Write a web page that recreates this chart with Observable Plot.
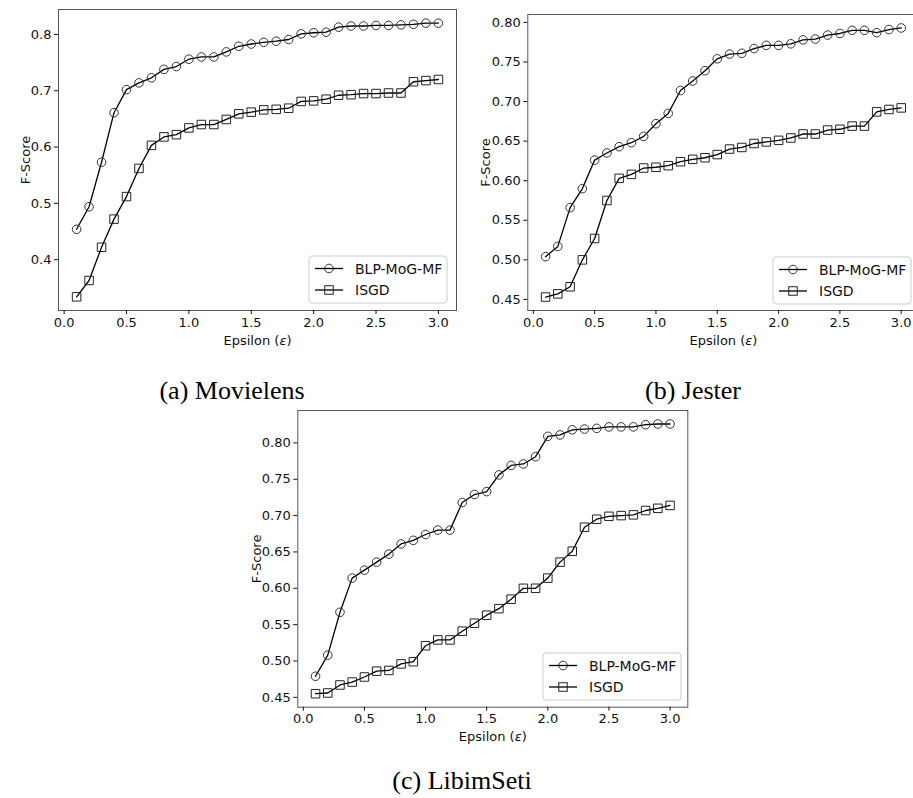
<!DOCTYPE html>
<html><head><meta charset="utf-8">
<script src="https://cdn.jsdelivr.net/npm/d3@7"></script>
<script src="https://cdn.jsdelivr.net/npm/@observablehq/plot@0.6"></script>
<style>
body{margin:0;background:#fff;}
#wrap{position:relative;width:913px;height:798px;overflow:hidden;background:#fff;}
.panel{position:absolute;}
.cap{position:absolute;font-family:"Liberation Serif","Times New Roman",serif;font-size:26px;line-height:26px;white-space:nowrap;transform:translateX(-50%);color:#000;}
.legend{position:absolute;}
</style></head><body><div id="wrap"></div>
<script>
const epsilon = [0.1,0.2,0.3,0.4,0.5,0.6,0.7,0.8,0.9,1.0,1.1,1.2,1.3,1.4,1.5,1.6,1.7,1.8,1.9,2.0,2.1,2.2,2.3,2.4,2.5,2.6,2.7,2.8,2.9,3.0];
const seriesNames = ["BLP-MoG-MF", "ISGD"];
const xTicks = [0.0,0.5,1.0,1.5,2.0,2.5,3.0];

const movielensBLP  = [0.454,0.494,0.573,0.661,0.702,0.714,0.723,0.738,0.743,0.756,0.760,0.760,0.769,0.779,0.783,0.786,0.788,0.791,0.801,0.803,0.804,0.813,0.815,0.815,0.816,0.816,0.817,0.818,0.820,0.820];
const movielensISGD = [0.334,0.363,0.422,0.472,0.512,0.562,0.603,0.618,0.622,0.634,0.640,0.640,0.649,0.659,0.662,0.666,0.667,0.669,0.681,0.682,0.685,0.692,0.693,0.695,0.695,0.696,0.696,0.716,0.718,0.720];
const movielensYTicks = [0.4,0.5,0.6,0.7,0.8];

const jesterBLP  = [0.504,0.517,0.566,0.590,0.626,0.635,0.643,0.648,0.656,0.672,0.685,0.714,0.726,0.739,0.754,0.760,0.761,0.767,0.771,0.771,0.773,0.778,0.779,0.784,0.786,0.790,0.790,0.787,0.791,0.793];
const jesterISGD = [0.453,0.457,0.466,0.500,0.527,0.575,0.603,0.608,0.616,0.617,0.619,0.624,0.627,0.629,0.633,0.640,0.642,0.647,0.649,0.651,0.654,0.659,0.659,0.664,0.665,0.669,0.669,0.687,0.690,0.692];
const jesterYTicks = [0.45,0.50,0.55,0.60,0.65,0.70,0.75,0.80];

const libimBLP  = [0.479,0.508,0.567,0.614,0.625,0.636,0.647,0.661,0.666,0.674,0.680,0.680,0.718,0.729,0.733,0.756,0.769,0.771,0.781,0.809,0.811,0.818,0.819,0.820,0.822,0.822,0.822,0.825,0.826,0.826];
const libimISGD = [0.455,0.456,0.467,0.471,0.478,0.486,0.487,0.496,0.499,0.521,0.529,0.529,0.541,0.552,0.563,0.572,0.585,0.600,0.600,0.614,0.636,0.651,0.684,0.695,0.699,0.700,0.701,0.707,0.710,0.714];
const libimYTicks = [0.45,0.50,0.55,0.60,0.65,0.70,0.75,0.80];

const captions = ["(a) Movielens", "(b) Jester", "(c) LibimSeti"];

const wrap = document.getElementById("wrap");

function panel(cfg) {
  const all = cfg.blp.concat(cfg.isgd);
  const ymin = d3.min(all), ymax = d3.max(all), yp = (ymax - ymin) * 0.05;
  const xmin = d3.min(epsilon), xmax = d3.max(epsilon), xp = (xmax - xmin) * 0.05;
  const rows = epsilon.map((e, i) => ({e, blp: cfg.blp[i], isgd: cfg.isgd[i]}));
  const chart = Plot.plot({
    width: cfg.width, height: cfg.height,
    marginLeft: cfg.ml, marginRight: cfg.mr, marginTop: cfg.mt, marginBottom: cfg.mb,
    style: {fontFamily: "'DejaVu Sans', sans-serif", fontSize: "13px", color: "#111", background: "transparent", overflow: "visible"},
    x: {domain: [xmin - xp, xmax + xp]},
    y: {domain: [ymin - yp, ymax + yp]},
    marks: [
      Plot.frame({stroke: "#555", strokeWidth: 1}),
      Plot.axisX({ticks: xTicks, tickFormat: d3.format(".1f"), tickSize: 4, tickPadding: 3, label: "Epsilon (ε)", labelAnchor: "center", labelArrow: "none", labelOffset: 34}),
      Plot.axisY({ticks: cfg.yTicks, tickFormat: d3.format(cfg.yFmt), tickSize: 4, tickPadding: 3, label: "F-Score", labelAnchor: "center", labelArrow: "none", labelOffset: cfg.ylo}),
      Plot.line(rows, {x: "e", y: "blp", stroke: "#000", strokeWidth: 1.3}),
      Plot.dot(rows, {x: "e", y: "blp", symbol: "circle", r: 4.3, stroke: "#333", fill: "none", strokeWidth: 1}),
      Plot.line(rows, {x: "e", y: "isgd", stroke: "#000", strokeWidth: 1.3}),
      Plot.dot(rows, {x: "e", y: "isgd", symbol: "square", r: 4.8, stroke: "#222", fill: "none", strokeWidth: 1})
    ]
  });
  chart.classList.add("panel");
  chart.style.left = cfg.left + "px";
  chart.style.top = cfg.top + "px";
  const xl = d3.select(chart).select('g[aria-label="x-axis label"] text');
  if (!xl.empty()) xl.html('Epsilon (<tspan font-style="italic">ε</tspan>)');
  wrap.appendChild(chart);

  // legend overlay
  const lw = 138, lh = 47;
  const lg = d3.select(wrap).append("svg").attr("class", "legend")
    .attr("width", lw + 2).attr("height", lh + 2)
    .style("left", (cfg.lx - 1) + "px").style("top", (cfg.ly - 1) + "px");
  lg.append("rect").attr("x", 1).attr("y", 1).attr("width", lw).attr("height", lh)
    .attr("rx", 3).attr("fill", "#fff").attr("fill-opacity", 0.8).attr("stroke", "#ccc");
  seriesNames.forEach((name, i) => {
    const yy = 1 + 12.5 + i * 21.5;
    lg.append("line").attr("x1", 7).attr("x2", 35).attr("y1", yy).attr("y2", yy).attr("stroke", "#000").attr("stroke-width", 1.3);
    if (i === 0) lg.append("circle").attr("cx", 21).attr("cy", yy).attr("r", 4.3).attr("fill", "none").attr("stroke", "#333");
    else lg.append("rect").attr("x", 21 - 4.25).attr("y", yy - 4.25).attr("width", 8.5).attr("height", 8.5).attr("fill", "none").attr("stroke", "#222");
    lg.append("text").attr("x", 47).attr("y", yy).attr("dy", "0.36em").attr("font-family", "'DejaVu Sans', sans-serif").attr("font-size", 14).attr("fill", "#111").text(name);
  });
}

panel({blp: movielensBLP, isgd: movielensISGD, yTicks: movielensYTicks, yFmt: ".1f", left: 0, top: 0, width: 460, height: 360, ml: 58, mr: 4, mt: 9, mb: 50, ylo: 38, lx: 309.3, ly: 256});
panel({blp: jesterBLP, isgd: jesterISGD, yTicks: jesterYTicks, yFmt: ".2f", left: 460, top: 0, width: 462, height: 360, ml: 67.3, mr: 3.5, mt: 14, mb: 50, ylo: 47, lx: 773, ly: 256.7});
panel({blp: libimBLP, isgd: libimISGD, yTicks: libimYTicks, yFmt: ".2f", left: 230, top: 390, width: 460, height: 360, ml: 67.3, mr: 2.7, mt: 20, mb: 43.3, ylo: 46, lx: 543.3, ly: 653.3});

const capPos = [[232, 378], [693, 378], [462, 768]];
captions.forEach((c, i) => {
  const d = document.createElement("div");
  d.className = "cap";
  d.style.left = capPos[i][0] + "px";
  d.style.top = capPos[i][1] + "px";
  d.textContent = c;
  wrap.appendChild(d);
});
</script></body></html>
